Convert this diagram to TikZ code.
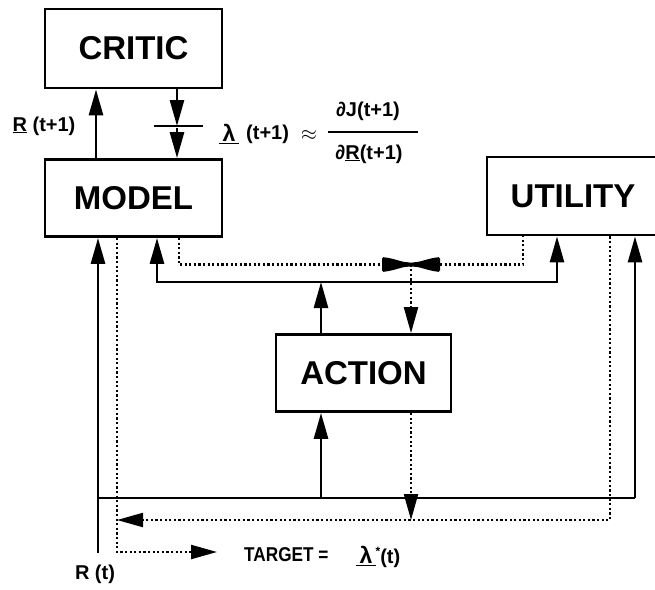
\documentclass[tikz,border=0pt]{standalone}
\usepackage{fontspec}
\usepackage{graphicx}
\setmainfont{Liberation Sans}
\usetikzlibrary{arrows.meta}
\begin{document}
\begin{tikzpicture}[x=1pt,y=-1pt,
  box/.style={draw,line width=2.8pt,inner sep=0pt,
    font=\fontsize{33}{33}\selectfont\bfseries},
  wire/.style={line width=2.6pt},
  dots/.style={line width=2.2pt,dash pattern=on 2.2pt off 2.4pt},
  tip/.style={-{Triangle[length=26pt,width=14pt]}},
  tips/.style={{Triangle[length=26pt,width=14pt]}-{Triangle[length=26pt,width=14pt]}},
  lab/.style={inner sep=0pt,font=\fontsize{20}{20}\selectfont\bfseries},
  frac/.style={inner sep=0pt,font=\fontsize{20}{20}\selectfont\bfseries}]

\fill[white] (0,0) rectangle (655,589);
\clip (0,0) rectangle (655,589);

% blocks
\node[box,minimum width=177pt,minimum height=79pt] (critic) at (133.5,48.5) {CRITIC};
\node[box,minimum width=177pt,minimum height=77pt] (model) at (133.5,198) {MODEL};
\node[box,minimum width=172pt,minimum height=78pt] (utility) at (573,196) {UTILITY};
\node[box,minimum width=175pt,minimum height=77pt] (action) at (363.5,373) {ACTION};

% junctions and corners
\coordinate (rin) at (98,553);
\coordinate (bl) at (98,498);
\coordinate (br) at (635,498);
\coordinate (ba) at (321,498);
\coordinate (ul) at (157,282);
\coordinate (ur) at (557,282);
\coordinate (ua) at (321,282);
\coordinate (bow) at (411,264.5);
\coordinate (bowl) at (382,264.5);
\coordinate (bowr) at (440,264.5);
\coordinate (dm) at (179,264.5);
\coordinate (du) at (523,264.5);
\coordinate (tl) at (117,552);
\coordinate (tr) at (217,552);
\coordinate (rl) at (117,520);
\coordinate (rr) at (610,520);
\coordinate (ad) at (411,520);
\coordinate (rx) at (96,0);
\coordinate (lx) at (177,0);
\coordinate (lamtip) at (177,126);

% model -> critic, critic -> model
\draw[wire,tip] (rx |- model.north) -- (rx |- critic.south);
\draw[wire,tip] (lx |- critic.south) -- (lamtip);
\draw[wire] (154,126) -- (203,126);
\draw[wire,tip] (177,128) -- (lx |- model.north);

% lower bus: R(t) feeding model, action and utility
\draw[wire,tip] (rin) -- (rin |- model.south);
\draw[wire] (bl) -- (br);
\draw[wire,tip] (br) -- (br |- utility.south);
\draw[wire,tip] (ba) -- (ba |- action.south);

% upper bus: action output to model and utility
\draw[wire,tip] (ua |- action.north) -- (ua);
\draw[wire,tips] (ul |- model.south) -- (ul) -- (ur) -- (ur |- utility.south);

% backpropagated derivatives
\draw[dots] (dm |- model.south) -- (dm) -- (bowl);
\draw[dots] (bowr) -- (du) -- (du |- utility.south);
\draw[dots,tip] (bow) -- (bow |- action.north);
\fill[rounded corners=1.5pt] (382,257) .. controls (395,258.5) and (402,262.5) .. (411,262.5)
  .. controls (420,262.5) and (427,258.5) .. (440,257)
  -- (440,272) .. controls (427,270.5) and (420,266.5) .. (411,266.5)
  .. controls (402,266.5) and (395,270.5) .. (382,272) -- cycle;
\draw[dots,tip] (ad |- action.south) -- (ad);
\draw[dots,tip] (rr |- utility.south) -- (rr) -- (rl);
\draw[dots,tip] (tl |- model.south) -- (tl) -- (tr);

% labels
\node[lab] (rlab) at (44,126) {\underline{R} (t+1)};
\node[lab] (lam) at (229,134) {\underline{\,{\fontsize{23}{23}\selectfont λ}\,}};
\node[lab,anchor=west] (tp) at (246,134) {(t+1)};
\node[lab] (approx) at (309,135) {\fontsize{22}{22}\selectfont$\approx$};
\node[frac] (num) at (368,111) {∂J(t+1)};
\node[frac] (den) at (369,154) {∂\underline{R}(t+1)};
\draw[line width=1.6pt] (328,132) -- (418,132);
\node[lab,anchor=west] (tgt) at (244,555) {\scalebox{0.86}[1]{TARGET =}};
\node[lab,anchor=west] (lst) at (356,557) {\underline{\,{\fontsize{23}{23}\selectfont λ}\,}\raisebox{8pt}{\fontsize{12}{12}\selectfont *}(t)};
\node[lab] (rt) at (95,574) {R (t)};
\end{tikzpicture}
\end{document}
